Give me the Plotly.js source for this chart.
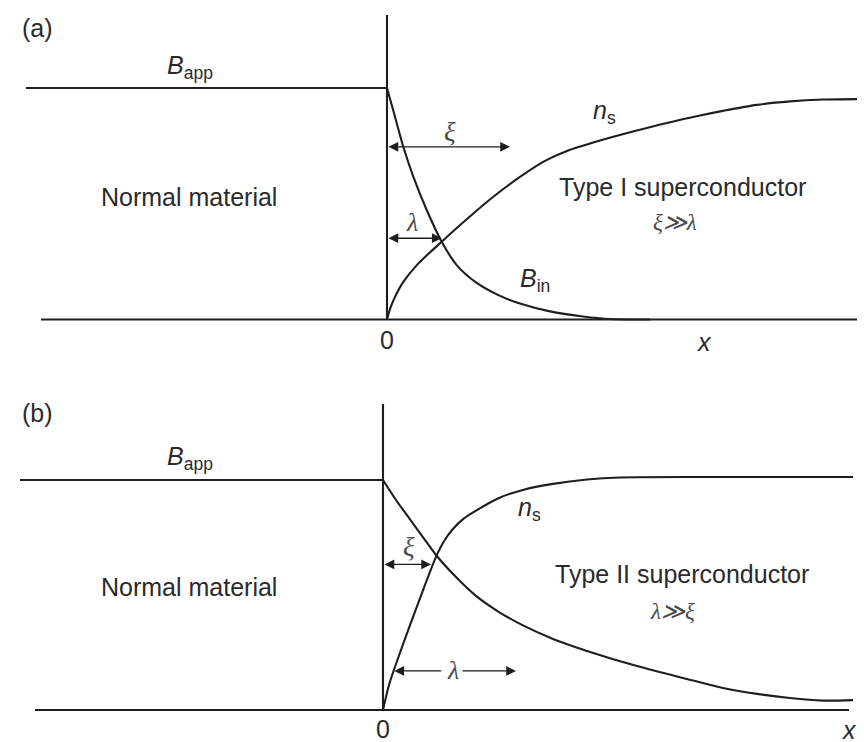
<!DOCTYPE html>
<html>
<head>
<meta charset="utf-8">
<script src="https://cdn.plot.ly/plotly-3.0.1.min.js"></script>
<style>html,body{margin:0;padding:0;background:#fff;}#chart{width:864px;height:742px;}</style>
</head>
<body>
<div id="chart"></div>
<script>
// ---------- Panel (a): Type I superconductor (xi >> lambda) ----------
const aBappX = [-3.61, 0];
const aBappY = [1, 1];
const aAxisX = [-3.46, 4.70];
const aAxisY = [0, 0];
const aWallX = [0, 0];
const aWallY = [0, 1.315];
const aBinX = [0, 0.08, 0.163, 0.263, 0.397, 0.547, 0.697, 0.897, 1.13, 1.33, 1.63, 1.96, 2.23, 2.63];
const aBinY = [1.0, 0.876, 0.746, 0.617, 0.473, 0.336, 0.235, 0.158, 0.102, 0.069, 0.035, 0.013, 0.002, 0];
const aNsX = [0, 0.03, 0.07, 0.16, 0.30, 0.547, 0.80, 1.06, 1.33, 1.58, 1.80, 2.13, 2.46, 2.80, 3.13, 3.36, 3.70, 4.03, 4.36, 4.70];
const aNsY = [0, 0.045, 0.088, 0.160, 0.236, 0.336, 0.434, 0.529, 0.616, 0.685, 0.728, 0.773, 0.812, 0.849, 0.881, 0.901, 0.927, 0.942, 0.950, 0.952];

// ---------- Panel (b): Type II superconductor (lambda >> xi) ----------
const bBappX = [-3.63, 0];
const bBappY = [1, 1];
const bAxisX = [-3.48, 4.66];
const bAxisY = [0, 0];
const bWallX = [0, 0];
const bWallY = [0, 1.330];
const bBinX = [0, 0.13, 0.263, 0.397, 0.53, 0.73, 0.93, 1.16, 1.39, 1.70, 2.04, 2.54, 3.04, 3.40, 3.74, 4.07, 4.40, 4.70];
const bBinY = [1.0, 0.913, 0.833, 0.753, 0.674, 0.578, 0.496, 0.426, 0.370, 0.309, 0.257, 0.191, 0.135, 0.096, 0.070, 0.052, 0.041, 0.043];
const bNsX = [0, 0.06, 0.13, 0.26, 0.397, 0.53, 0.61, 0.697, 0.81, 0.93, 1.16, 1.40, 1.70, 2.04, 2.37, 3.37, 4.70];
const bNsY = [0, 0.109, 0.200, 0.357, 0.517, 0.666, 0.734, 0.786, 0.833, 0.867, 0.922, 0.957, 0.983, 1.002, 1.011, 1.013, 1.013];

// Dimension arrows (data units)
const aXiArrow = {x0: 0, x1: 1.23, y: 0.746};
const aLamArrow = {x0: 0, x1: 0.547, y: 0.351};
const bXiArrow = {x0: 0, x1: 0.48, y: 0.633};
const bLamArrow = {x0: 0.113, x1: 1.33, gap0: 0.597, gap1: 0.78, y: 0.170};

const lineCol = '#1e1e1e';
const txtCol = '#2a2a2a';
const greekCol = '#4a4a4a';
const sans = 'Liberation Sans, Arial, sans-serif';
const serif = 'Liberation Serif, Times New Roman, serif';

function ln(x, y, xa, ya) {
  return {x: x, y: y, xaxis: xa, yaxis: ya, type: 'scatter', mode: 'lines',
          line: {color: lineCol, width: 2.1, shape: 'spline', smoothing: 0.8},
          hoverinfo: 'skip', showlegend: false, cliponaxis: false};
}

const traces = [
  ln(aBappX, aBappY, 'x', 'y'),
  ln(aAxisX, aAxisY, 'x', 'y'),
  ln(aWallX, aWallY, 'x', 'y'),
  ln(aBinX, aBinY, 'x', 'y'),
  ln(aNsX, aNsY, 'x', 'y'),
  ln(bBappX, bBappY, 'x2', 'y2'),
  ln(bAxisX, bAxisY, 'x2', 'y2'),
  ln(bWallX, bWallY, 'x2', 'y2'),
  ln(bBinX, bBinY, 'x2', 'y2'),
  ln(bNsX, bNsY, 'x2', 'y2')
];

function lab(text, x, y, xr, yr, size, fam, col, xanchor) {
  return {text: text, x: x, y: y, xref: xr, yref: yr, showarrow: false,
          font: {family: fam || sans, size: size || 25, color: col || txtCol},
          xanchor: xanchor || 'center', yanchor: 'middle'};
}
function arrow(x0, x1, y, xr, yr, side) {
  return {text: '', x: x1, y: y, ax: x0, ay: y, xref: xr, yref: yr, axref: xr, ayref: yr,
          showarrow: true, arrowhead: 2, arrowsize: 1.5, arrowwidth: 1.3,
          arrowcolor: lineCol, arrowside: side || 'end+start', standoff: 0, startstandoff: 0};
}

const annotations = [
  lab('(a)', -3.50, 1.259, 'x', 'y'),
  lab('<i>B</i><sub>app</sub>', -1.97, 1.091, 'x', 'y'),
  lab('Normal material', -1.98, 0.529, 'x', 'y'),
  lab('0', 0, -0.089, 'x', 'y'),
  lab('<i>x</i>', 3.17, -0.097, 'x', 'y'),
  lab('Type I superconductor', 2.95, 0.572, 'x', 'y'),
  lab('<i>ξ≫λ</i>', 2.88, 0.421, 'x', 'y', 23, serif, greekCol),
  lab('<i>n</i><sub>s</sub>', 2.17, 0.896, 'x', 'y'),
  lab('<i>B</i><sub>in</sub>', 1.48, 0.171, 'x', 'y'),
  lab('<i>ξ</i>', 0.63, 0.81, 'x', 'y', 27, serif, greekCol),
  lab('<i>λ</i>', 0.25, 0.417, 'x', 'y', 26, serif, greekCol),
  arrow(aXiArrow.x0, aXiArrow.x1, aXiArrow.y, 'x', 'y'),
  arrow(aLamArrow.x0, aLamArrow.x1, aLamArrow.y, 'x', 'y'),

  lab('(b)', -3.46, 1.291, 'x2', 'y2'),
  lab('<i>B</i><sub>app</sub>', -1.93, 1.096, 'x2', 'y2'),
  lab('Normal material', -1.94, 0.535, 'x2', 'y2'),
  lab('0', 0, -0.083, 'x2', 'y2'),
  lab('<i>x</i>', 4.66, -0.087, 'x2', 'y2', 25, sans, txtCol, 'center'),
  lab('Type II superconductor', 2.99, 0.591, 'x2', 'y2'),
  lab('<i>λ≫ξ</i>', 2.89, 0.430, 'x2', 'y2', 23, serif, greekCol),
  lab('<i>n</i><sub>s</sub>', 1.46, 0.874, 'x2', 'y2'),
  lab('<i>ξ</i>', 0.26, 0.709, 'x2', 'y2', 27, serif, greekCol),
  lab('<i>λ</i>', 0.697, 0.170, 'x2', 'y2', 26, serif, greekCol),
  arrow(bXiArrow.x0, bXiArrow.x1, bXiArrow.y, 'x2', 'y2'),
  arrow(bLamArrow.gap0, bLamArrow.x0, bLamArrow.y, 'x2', 'y2', 'end'),
  arrow(bLamArrow.gap1, bLamArrow.x1, bLamArrow.y, 'x2', 'y2', 'end')
];

const hidden = {visible: false, showgrid: false, zeroline: false, fixedrange: true};
const layout = {
  width: 864, height: 742,
  margin: {l: 0, r: 0, t: 0, b: 0},
  paper_bgcolor: '#fff', plot_bgcolor: 'rgba(0,0,0,0)',
  showlegend: false,
  xaxis: Object.assign({}, hidden, {domain: [0, 1], range: [-3.87, 4.77], anchor: 'y'}),
  yaxis: Object.assign({}, hidden, {domain: [0.5, 1], range: [-0.2225, 1.380], anchor: 'x'}),
  xaxis2: Object.assign({}, hidden, {domain: [0, 1], range: [-3.83, 4.81], anchor: 'y2'}),
  yaxis2: Object.assign({}, hidden, {domain: [0, 0.5], range: [-0.1391, 1.4739], anchor: 'x2'}),
  annotations: annotations
};

Plotly.newPlot('chart', traces, layout, {staticPlot: true, displayModeBar: false});
</script>
</body>
</html>
